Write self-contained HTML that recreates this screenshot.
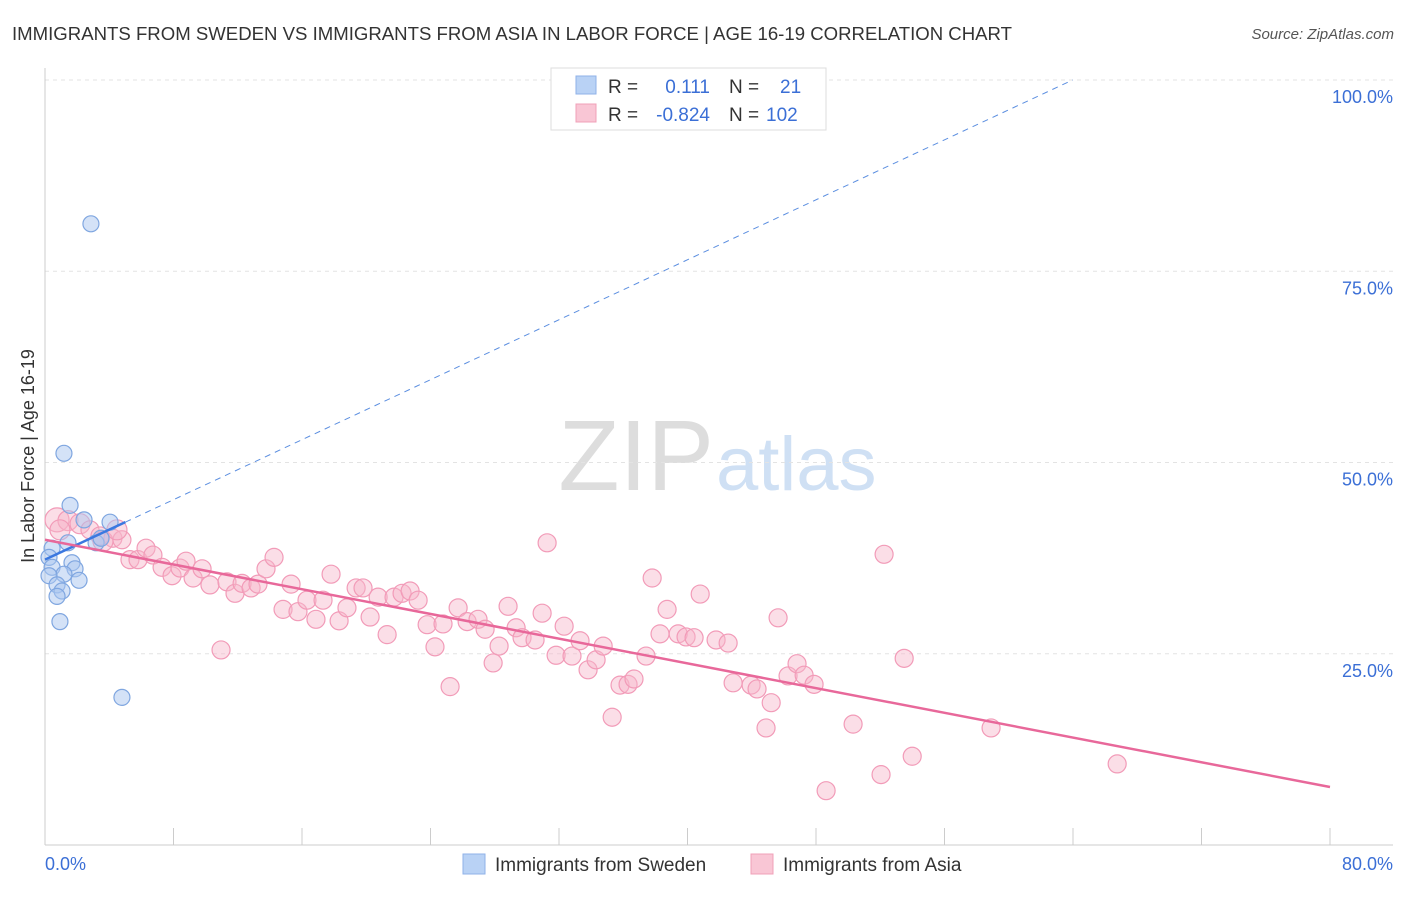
<!DOCTYPE html>
<html><head><meta charset="utf-8"><style>
body{margin:0;background:#fff;font-family:"Liberation Sans",sans-serif;}
svg text{font-family:"Liberation Sans",sans-serif;}
</style></head><body>
<svg id="c" width="1406" height="892" xmlns="http://www.w3.org/2000/svg">
<text x="12" y="40" font-size="18.5" fill="#333" textLength="1000" lengthAdjust="spacingAndGlyphs">IMMIGRANTS FROM SWEDEN VS IMMIGRANTS FROM ASIA IN LABOR FORCE | AGE 16-19 CORRELATION CHART</text>
<text x="1394" y="39" font-size="15" fill="#555" font-style="italic" text-anchor="end">Source: ZipAtlas.com</text>
<text x="714" y="490" font-size="100" fill="#ddd" text-anchor="end" font-family="Liberation Serif">ZIP</text>
<text x="716" y="490" font-size="76" fill="#cfe0f4">atlas</text>
<g id="grid"></g>
<line x1="45" y1="68" x2="45" y2="845" stroke="#ccc"/>
<line x1="45" y1="845" x2="1393" y2="845" stroke="#ccc"/>
<text x="34" y="456" font-size="18" fill="#333" text-anchor="middle" transform="rotate(-90 34 456)">In Labor Force | Age 16-19</text>
<text x="45" y="870" font-size="18" fill="#3b6fd6">0.0%</text>
<text x="1393" y="870" font-size="18" fill="#3b6fd6" text-anchor="end">80.0%</text>
<g id="pts"></g>
<g id="lines"></g>
<g>
<rect x="551" y="68" width="275" height="62" fill="#fff" stroke="#ddd"/>
<rect x="576" y="76" width="20" height="18" fill="#b9d2f5" stroke="#8fb2e8"/>
<rect x="576" y="104" width="20" height="18" fill="#f9c6d5" stroke="#f0a0b8"/>
<text x="608" y="93" font-size="19" fill="#333">R = </text><text x="710" y="93" font-size="19" fill="#3b6fd6" text-anchor="end">0.111</text>
<text x="729" y="93" font-size="19" fill="#333">N = </text><text x="780" y="93" font-size="19" fill="#3b6fd6">21</text>
<text x="608" y="121" font-size="19" fill="#333">R = </text><text x="710" y="121" font-size="19" fill="#3b6fd6" text-anchor="end">-0.824</text>
<text x="729" y="121" font-size="19" fill="#333">N = </text><text x="766" y="121" font-size="19" fill="#3b6fd6">102</text>
</g>
<g>
<rect x="463" y="854" width="22" height="20" fill="#b9d2f5" stroke="#8fb2e8"/>
<text x="495" y="871" font-size="19" fill="#333">Immigrants from Sweden</text>
<rect x="751" y="854" width="22" height="20" fill="#f9c6d5" stroke="#f0a0b8"/>
<text x="783" y="871" font-size="19" fill="#333">Immigrants from Asia</text>
</g>
</svg>
<script>
const yTicks=[25,50,75,100];
const yTickLabels=["25.0%","50.0%","75.0%","100.0%"];
const xTicks=[0,8,16,24,32,40,48,56,64,72,80];
const swedenX=[2.86,1.18,1.56,2.43,4.05,1.43,3.18,3.49,0.44,0.25,1.68,0.44,1.87,1.18,0.25,2.12,0.75,1.06,0.75,0.93,4.79];
const swedenY=[81.2,51.2,44.4,42.5,42.2,39.5,39.5,40.1,38.8,37.6,36.9,36.3,36.1,35.4,35.2,34.6,34.0,33.2,32.5,29.2,19.3];
const asiaX=[0.75,1.43,2.18,2.80,3.42,4.23,4.79,5.29,5.79,6.29,6.72,7.29,7.91,8.41,8.78,9.22,9.78,10.27,10.96,11.33,11.83,12.27,12.83,13.26,13.76,14.26,14.82,15.32,15.75,16.31,16.87,17.31,17.81,18.31,18.80,19.37,19.80,20.24,20.74,21.30,21.73,22.23,22.73,23.23,23.79,24.28,24.78,25.22,25.72,26.28,26.96,27.40,27.90,28.27,28.83,29.33,29.70,30.51,30.95,31.26,31.82,32.32,32.81,33.31,33.81,34.31,34.75,35.31,35.80,36.30,36.67,37.42,37.80,38.29,38.73,39.42,39.91,40.41,40.79,41.78,42.53,42.84,43.96,44.33,44.89,45.21,45.64,46.26,46.82,47.26,47.88,48.63,50.31,52.05,52.24,53.49,53.99,58.90,66.75,0.93,3.61,4.48];
const asiaY=[42.5,42.4,42.0,41.2,40.4,40.1,39.9,37.3,37.3,38.8,37.9,36.3,35.2,36.2,37.1,34.9,36.1,34.0,25.5,34.4,32.9,34.2,33.6,34.1,36.1,37.6,30.8,34.1,30.5,32.0,29.5,32.0,35.4,29.3,31.0,33.6,33.6,29.8,32.4,27.5,32.4,32.9,33.2,32.0,28.8,25.9,28.9,20.7,31.0,29.2,29.5,28.2,23.8,26.0,31.2,28.4,27.1,26.8,30.3,39.5,24.8,28.6,24.7,26.7,22.9,24.2,26.0,16.7,20.9,21.0,21.7,24.7,34.9,27.6,30.8,27.6,27.2,27.1,32.8,26.8,26.4,21.2,20.9,20.4,15.3,18.6,29.7,22.1,23.7,22.2,21.0,7.1,15.8,9.2,38.0,24.4,11.6,15.3,10.6,41.2,39.7,41.2];
const swedenTrend=[37.3,0.98]; // intercept, slope
const asiaTrend=[39.9,-0.404];
const X0=45,X1=1330,Y0=845,Y100=80;
const sx=v=>X0+(X1-X0)*v/80, sy=v=>Y0-(Y0-Y100)*v/100;
const NS="http://www.w3.org/2000/svg";
function mk(t,a,p){const e=document.createElementNS(NS,t);for(const k in a)e.setAttribute(k,a[k]);p.appendChild(e);return e;}
const grid=document.getElementById('grid');
yTicks.forEach((t,i)=>{
 const l=mk('line',{x1:45,x2:1393,y1:sy(t),y2:sy(t),stroke:'#e3e3e3','stroke-dasharray':'4,4'},grid);
 
 
 const tx=mk('text',{x:1393,y:sy(t)+23,'font-size':18,fill:'#3b6fd6','text-anchor':'end'},grid);
 tx.textContent=yTickLabels[i];
 
 
});
xTicks.forEach(t=>{
 const l=mk('line',{x1:sx(t),x2:sx(t),y1:828,y2:845,stroke:'#ccc'},grid);
 
 
});
const pts=document.getElementById('pts');
asiaX.forEach((x,i)=>{
 const r=(i>=99||i<3)?(i===0?12:10):9;
 const c=mk('circle',{cx:sx(x),cy:sy(asiaY[i]),r:r,fill:'rgba(247,182,202,0.45)',stroke:'#f29bb8','stroke-width':1.2},pts);
 
 
});
swedenX.forEach((x,i)=>{
 const c=mk('circle',{cx:sx(x),cy:sy(swedenY[i]),r:8,fill:'rgba(170,198,240,0.5)',stroke:'#7fa6e0','stroke-width':1.2},pts);
 
 
});
const lines=document.getElementById('lines');
const xe=(100-swedenTrend[0])/swedenTrend[1];
let l=mk('line',{x1:sx(5),y1:sy(swedenTrend[0]+5*swedenTrend[1]),x2:sx(xe),y2:sy(100),stroke:'#5b8ee0','stroke-width':1,'stroke-dasharray':'6,5'},lines);


l=mk('line',{x1:sx(0),y1:sy(swedenTrend[0]),x2:sx(5),y2:sy(swedenTrend[0]+5*swedenTrend[1]),stroke:'#3b78e0','stroke-width':2.5},lines);


l=mk('line',{x1:sx(0),y1:sy(asiaTrend[0]),x2:sx(80),y2:sy(asiaTrend[0]+80*asiaTrend[1]),stroke:'#e8689a','stroke-width':2.5},lines);


</script>
</body></html>
